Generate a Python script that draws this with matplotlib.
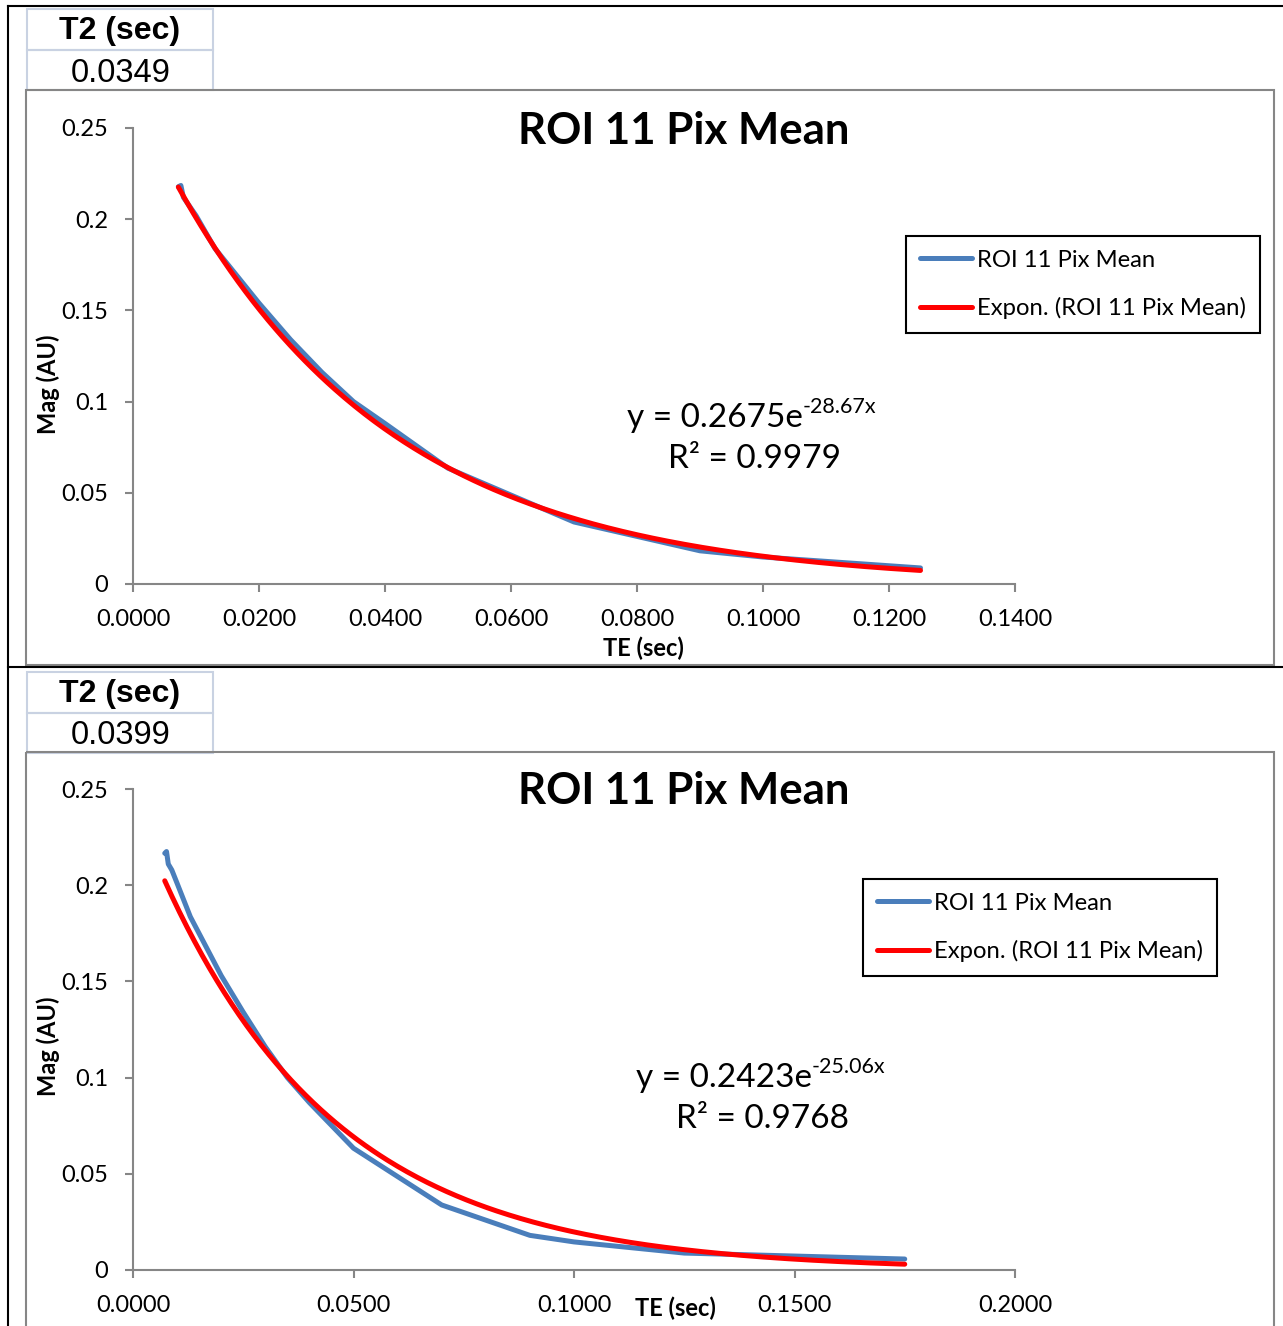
import numpy as np
import matplotlib
matplotlib.use('Agg')
import matplotlib.pyplot as plt
from matplotlib.patches import Rectangle

# Ukuran gambar (pixel)
W, H = 1283, 1326

# Data sinyal ROI (TE dalam detik, magnitudo AU)
te_1 = [0.0072, 0.0076, 0.0080, 0.0088, 0.0100, 0.0130, 0.0200, 0.0250, 0.0300,
        0.0350, 0.0400, 0.0500, 0.0700, 0.0900, 0.1000, 0.1250]
mag_1 = [0.2178, 0.2185, 0.2120, 0.2080, 0.2020, 0.1840, 0.1540, 0.1340, 0.1160,
         0.1000, 0.0880, 0.0635, 0.0340, 0.0182, 0.0148, 0.0088]

te_2 = [0.0072, 0.0076, 0.0080, 0.0088, 0.0100, 0.0130, 0.0200, 0.0250, 0.0300,
        0.0350, 0.0400, 0.0500, 0.0700, 0.0900, 0.1000, 0.1250, 0.1750]
mag_2 = [0.2166, 0.2175, 0.2110, 0.2079, 0.2010, 0.1836, 0.1530, 0.1340, 0.1160,
         0.1000, 0.0870, 0.0633, 0.0338, 0.0180, 0.0146, 0.0088, 0.0057]

# Parameter trendline eksponensial (dari label di grafik)
fit_a = [0.2675, 0.2423]
fit_k = [-28.67, -25.06]
fit_r2 = ['0.9979', '0.9768']
t2_sec = ['0.0349', '0.0399']

# Tick
xticks_1 = [0.0, 0.02, 0.04, 0.06, 0.08, 0.10, 0.12, 0.14]
xlabels_1 = ['0.0000', '0.0200', '0.0400', '0.0600', '0.0800', '0.1000', '0.1200', '0.1400']
xticks_2 = [0.0, 0.05, 0.10, 0.15, 0.20]
xlabels_2 = ['0.0000', '0.0500', '0.1000', '0.1500', '0.2000']
yticks = [0, 0.05, 0.1, 0.15, 0.2, 0.25]
ylabels = ['0', '0.05', '0.1', '0.15', '0.2', '0.25']

plt.rcParams['font.family'] = ['Lato', 'DejaVu Sans']
BLUE = '#4a7ebb'
RED = '#ff0000'
GRAY = '#868686'
CELL = '#c9d2e2'

panels = [
    dict(te=te_1, mag=mag_1, xmax=0.14, xticks=xticks_1, xlabels=xlabels_1,
         plot=(133, 128, 1015, 584), table_top=9, box=(26, 90, 1274, 665),
         title_y=131, leg=(906, 236), eq=(803, 427), r2=(754, 459),
         ylab_y=384, xlab=(643, 648)),
    dict(te=te_2, mag=mag_2, xmax=0.20, xticks=xticks_2, xlabels=xlabels_2,
         plot=(133, 789, 1015, 1270), table_top=672, box=(26, 752, 1274, 1400),
         title_y=791, leg=(863, 879), eq=(812, 1087), r2=(762, 1119),
         ylab_y=1046, xlab=(675, 1308)),
]

fig = plt.figure(figsize=(W / 100, H / 100), dpi=100)
fig.patch.set_facecolor('white')

# Layer latar untuk bingkai, tabel dan teks
bg = fig.add_axes([0, 0, 1, 1], zorder=3)
bg.set_xlim(0, W)
bg.set_ylim(H, 0)
bg.axis('off')

# Garis hitam sel spreadsheet
bg.plot([8, 8], [6, H], color='black', lw=1.5)
bg.plot([8, W], [6, 6], color='black', lw=1.5)
bg.plot([8, W], [667, 667], color='black', lw=1.5)

for i, p in enumerate(panels):
    # Tabel T2
    t0 = p['table_top']
    bg.add_patch(Rectangle((27, t0), 186, 41, fill=False, edgecolor=CELL, lw=1.5))
    bg.add_patch(Rectangle((27, t0 + 41), 186, 40, fill=False, edgecolor=CELL, lw=1.5))
    bg.text(120, t0 + 22, 'T2 (sec)', ha='center', va='center', fontsize=23,
            fontweight='bold', family='Liberation Sans')
    bg.text(121, t0 + 64, t2_sec[i], ha='center', va='center', fontsize=23.5,
            family='Liberation Sans')

    # Bingkai area chart
    bx0, by0, bx1, by1 = p['box']
    bg.add_patch(Rectangle((bx0, by0), bx1 - bx0, by1 - by0, fill=False,
                           edgecolor=GRAY, lw=1.5))

    # Plot
    x0, y0, x1, y1 = p['plot']
    ax = fig.add_axes([x0 / W, 1 - y1 / H, (x1 - x0) / W, (y1 - y0) / H], zorder=2)
    ax.set_facecolor('none')
    ax.plot(p['te'], p['mag'], color=BLUE, lw=3.6, solid_capstyle='round',
            solid_joinstyle='round', label='ROI 11 Pix Mean', clip_on=False)
    xs = np.linspace(min(p['te']), max(p['te']), 300)
    ax.plot(xs, fit_a[i] * np.exp(fit_k[i] * xs), color=RED, lw=3.6,
            solid_capstyle='round', label='Expon. (ROI 11 Pix Mean)', clip_on=False)

    ax.set_xlim(0, p['xmax'])
    ax.set_ylim(0, 0.25)
    ax.set_xticks(p['xticks'], p['xlabels'])
    ax.set_yticks(yticks, ylabels)
    for s in ['top', 'right']:
        ax.spines[s].set_visible(False)
    for s in ['left', 'bottom']:
        ax.spines[s].set_color(GRAY)
        ax.spines[s].set_linewidth(1.5)
    ax.tick_params(direction='out', length=6, width=1.5, color=GRAY,
                   labelsize=17, pad=12)

    leg = ax.legend(loc='upper left', bbox_to_anchor=(p['leg'][0] / W, 1 - p['leg'][1] / H),
                    bbox_transform=fig.transFigure, borderaxespad=0, fancybox=False,
                    edgecolor='black', framealpha=1, fontsize=17.2, borderpad=0.58,
                    labelspacing=1.1, handlelength=2.2, handletextpad=0.2)
    leg.get_frame().set_linewidth(1.5)

    # Judul, label sumbu, persamaan
    bg.text(684, p['title_y'], 'ROI 11 Pix Mean', ha='center', va='center',
            fontsize=31.5, fontweight='bold')
    bg.text(48, p['ylab_y'], 'Mag (AU)', rotation=90, ha='center', va='center',
            fontsize=17, fontweight='bold')
    bg.text(p['xlab'][0], p['xlab'][1], 'TE (sec)', ha='center', va='center',
            fontsize=17, fontweight='bold')
    ex, ey = p['eq']
    bg.text(ex, ey, f'y = {fit_a[i]:.4f}e', ha='right', va='baseline', fontsize=24)
    bg.text(ex, ey - 14, f'{fit_k[i]:.2f}x', ha='left', va='baseline', fontsize=15.5)
    bg.text(p['r2'][0], p['r2'][1], f'R² = {fit_r2[i]}', ha='center', va='center',
            fontsize=24)

plt.savefig('out.png', dpi=100)
